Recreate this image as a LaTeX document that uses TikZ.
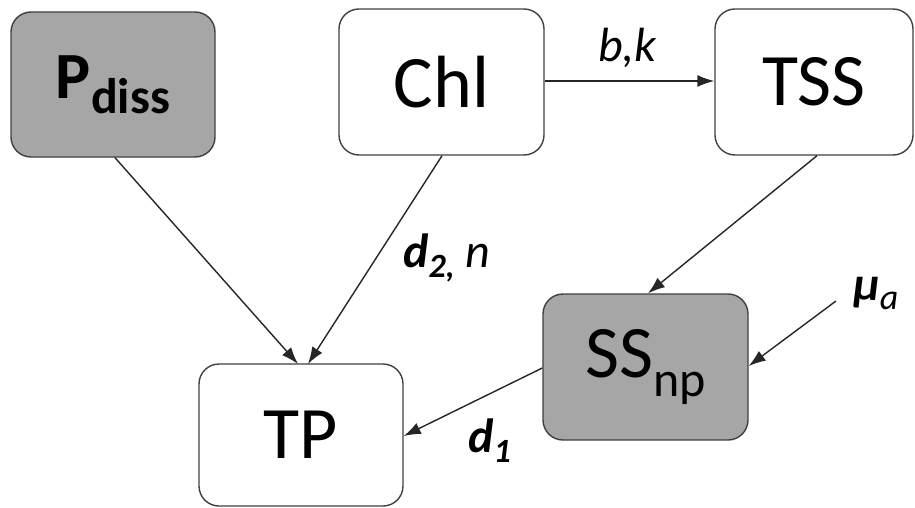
\documentclass[tikz,border=0pt]{standalone}
\usepackage{fontspec}
\setmainfont{Carlito}
\usetikzlibrary{arrows.meta}
\tikzset{
  box/.style={draw=black!75, line width=1.4pt, rounded corners=20pt, inner sep=0pt, align=center, font=\fontsize{74}{80}\selectfont},
  graybox/.style={box, fill=black!35},
  conn/.style={draw=black!85, line width=1.4pt, -{Latex[length=17pt,width=12pt]}},
  lbl/.style={inner sep=0pt, anchor=base west, font=\fontsize{48}{52}\selectfont}
}
\begin{document}
\begin{tikzpicture}[x=1pt,y=-1pt]
\useasboundingbox (0,0) rectangle (915,508);
\node[graybox, minimum width=204pt, minimum height=145pt] (pd) at (113,84.5) {\fontsize{66}{70}\selectfont\bfseries P\raisebox{-15pt}{\fontsize{50}{52}\selectfont diss}};
\node[box, minimum width=205pt, minimum height=146pt] (chl) at (441.5,82) {Chl};
\node[box, minimum width=198pt, minimum height=146pt] (tss) at (814,82) {TSS};
\node[graybox, minimum width=205pt, minimum height=146pt] (ss) at (645.5,367) {SS\raisebox{-19pt}{\fontsize{50}{52}\selectfont np}};
\node[box, minimum width=204pt, minimum height=142pt] (tp) at (301,435) {TP};
\coordinate (mua) at (836,301);
\node[lbl] (bk) at (598,62) {\itshape b,k};
\node[lbl] (d2) at (403,267) {\bfseries\itshape d\raisebox{-10pt}{\fontsize{34}{36}\selectfont 2,}\mdseries\ n};
\node[lbl] (d1) at (468,452) {\bfseries\itshape d\raisebox{-10pt}{\fontsize{34}{36}\selectfont 1}};
\node[lbl] (mu) at (853,300) {\bfseries\itshape μ\mdseries\raisebox{-9pt}{\fontsize{36}{38}\selectfont a}};
\draw[conn] (pd.south -| 115,0) -- (298,364);
\draw[conn] (chl.south -| 442,0) -- (308,364);
\draw[conn] (chl.east |- 0,81) -- (tss.west |- 0,81);
\draw[conn] (tss.south -| 817,0) -- (ss.north -| 648,0);
\draw[conn] (mua) -- (ss.east |- 0,366);
\draw[conn] (ss.west |- 0,368) -- (tp.east |- 0,436);
\end{tikzpicture}
\end{document}
